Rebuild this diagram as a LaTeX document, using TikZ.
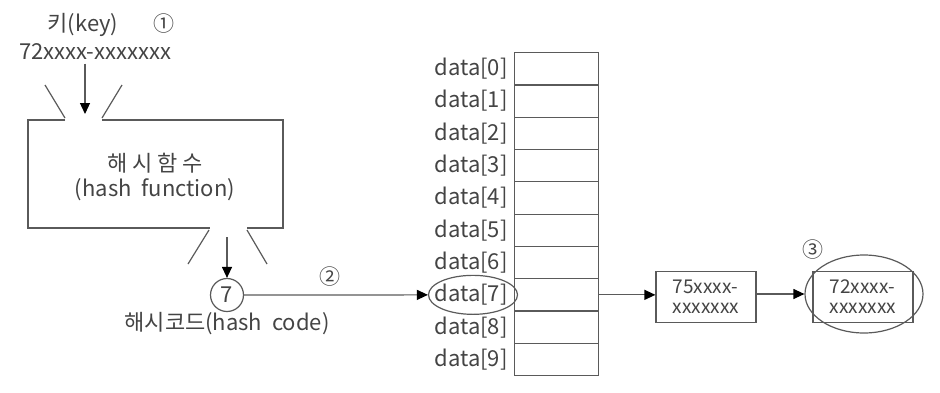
\documentclass[tikz,border=0pt]{standalone}
\usepackage{fontspec}
\setmainfont{Noto Sans CJK KR}
\usepackage{xcolor}
\usetikzlibrary{positioning,arrows.meta,shapes.geometric}
\definecolor{linegray}{HTML}{5A5A5A}
\definecolor{textgray}{HTML}{444444}

\begin{document}
\begin{tikzpicture}[
    x=1pt, y=-1pt,
    every node/.style={text=textgray, font=\fontsize{22}{25}\selectfont},
    line/.style={draw=linegray, line width=1.2pt},
    arr/.style={line, -{Triangle[length=11pt,width=10pt,color=black]}},
    cell/.style={line, minimum width=84pt, minimum height=32.3pt, inner sep=0pt, anchor=north west},
    recbox/.style={line, minimum width=100pt, minimum height=51pt, align=left, inner sep=2pt,
        font=\fontsize{19}{20}\selectfont},
    mark circ/.style={font=\fontsize{21}{22}\selectfont}
]
\useasboundingbox (0,0) rectangle (940,392);

% key and hash function
\node (key) at (83,25) {키(key)};
\node[mark circ] (m1) at (164,24) {①};
\node (keyval) at (95,52) {72xxxx-xxxxxxx};
\coordinate (funin) at (85,114);
\draw[arr] (keyval.south -| funin) -- (funin);
\draw[line] (65,120) -- (28,120) -- (28,228) -- (210,228)
    (247,228) -- (283,228) -- (283,120) -- (102,120);
\draw[line] (45,85) -- (65,118) (122,85) -- (102,118);
\draw[line] (209,230) -- (188,264) (247,230) -- (267,264);
\node[align=center] (hashfn) at (155,177) {해 시 함 수\\(hash\ \ function)};

% hash code
\node[line, circle, minimum size=33pt, inner sep=0pt] (code) at (227,295) {7};
\coordinate (funout) at (227,237);
\draw[arr] (funout) -- (code);
\node[below=-3pt of code] (codelbl) {해시코드(hash\ \ code)};

% array
\foreach \i in {0,...,9} {
    \node[cell] (cell\i) at (514,{52+32.3*\i}) {};
    \node[anchor=east] (lbl\i) at ([xshift=-3pt]cell\i.west) {data[\i]};
}
\node[line, ellipse, minimum width=89pt, minimum height=39pt] (sel) at ([xshift=2pt]lbl7.center) {};
\draw[arr] (code) -- (sel);
\node[mark circ] (m2) at (330,277) {②};

% chain
\node[recbox] (rec1) at (706,297) {75xxxx-\\xxxxxxx};
\node[recbox] (rec2) at (863,297) {72xxxx-\\xxxxxxx};
\node[line, ellipse, minimum width=118pt, minimum height=78pt] (hit) at (864,294) {};
\node[mark circ] (m3) at (813,250) {③};
\draw[arr] (cell7.east) -- (cell7.east -| rec1.west);
\draw[arr] (rec1.east |- hit) -- (hit);
\end{tikzpicture}
\end{document}
